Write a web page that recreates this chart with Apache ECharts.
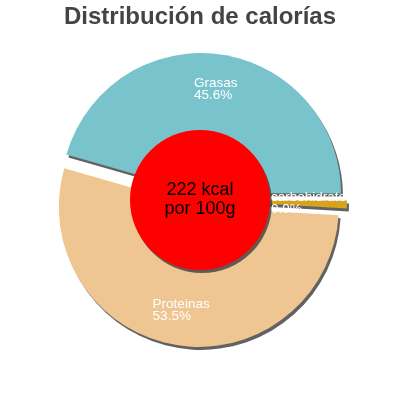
<!DOCTYPE html>
<html>
<head>
<meta charset="utf-8">
<script src="https://cdn.jsdelivr.net/npm/echarts@6/dist/echarts.min.js"></script>
<style>
html,body{margin:0;padding:0;background:#fff;}
#c{width:400px;height:400px;}
</style>
</head>
<body>
<div id="c"></div>
<script>
var titleText = 'Distribución de calorías';
var categories = ['Grasas', 'carbohidratos', 'Proteinas'];
var percents = [45.6, 0.9, 53.5];
var colors = ['#79c4cc', '#d7a31c', '#efc691'];
var kcal = 222;
var centerLines = [kcal + ' kcal', 'por 100g'];

var sliceData = categories.map(function (n, i) {
  return { name: n, value: percents[i], selected: true, itemStyle: { color: colors[i] } };
});
var labelData = categories.map(function (n, i) {
  return { name: n, value: percents[i], selected: true };
});

var shadow = { shadowColor: 'rgba(70,70,70,0.85)', shadowBlur: 0, shadowOffsetX: 2, shadowOffsetY: 3 };

var chart = echarts.init(document.getElementById('c'), null, { renderer: 'canvas' });
chart.setOption({
  animation: false,
  title: {
    text: titleText,
    left: 'center',
    top: 0,
    textStyle: { fontFamily: 'Liberation Sans', fontSize: 24, fontWeight: 'bold', color: '#444' }
  },
  series: [
    {
      type: 'pie',
      center: [200, 200],
      radius: [0, 140],
      startAngle: 164,
      clockwise: true,
      selectedMode: 'multiple',
      selectedOffset: 7,
      percentPrecision: 1,
      label: { show: false },
      labelLine: { show: false },
      emphasis: { disabled: true },
      silent: true,
      itemStyle: shadow,
      data: sliceData
    },
    {
      type: 'pie',
      center: [200, 200],
      radius: [0, 70],
      silent: true,
      emphasis: { disabled: true },
      labelLine: { show: false },
      itemStyle: Object.assign({ color: '#ff0000' }, shadow),
      label: {
        show: true,
        position: 'center',
        formatter: centerLines.join('\n'),
        fontFamily: 'Liberation Sans',
        fontSize: 18,
        lineHeight: 19,
        color: '#000'
      },
      data: [{ name: 'kcal', value: kcal }]
    },
    {
      type: 'pie',
      center: [200, 200],
      radius: [64, 140],
      startAngle: 164,
      clockwise: true,
      selectedMode: 'multiple',
      selectedOffset: 7,
      percentPrecision: 1,
      silent: true,
      emphasis: { disabled: true },
      labelLine: { show: false },
      itemStyle: { color: 'rgba(0,0,0,0)' },
      label: {
        show: true,
        position: 'inside',
        formatter: '{t|{b}}\n{t|{d}%}',
        color: '#fff',
        rich: {
          t: { align: 'left', fontFamily: 'Liberation Sans', fontSize: 13.5, lineHeight: 12, color: '#fff' }
        }
      },
      data: labelData
    }
  ]
});
</script>
</body>
</html>
